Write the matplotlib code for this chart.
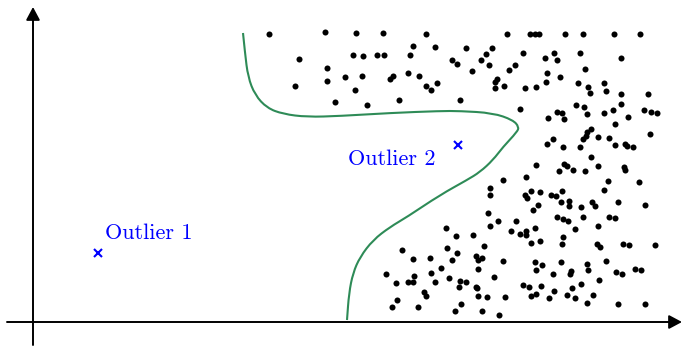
import matplotlib
matplotlib.use("Agg")
import matplotlib.pyplot as plt
from matplotlib.path import Path
from matplotlib.patches import PathPatch

# ---- data (origin at the axis crossing) ----
dots_x = [236, 292, 323, 350, 393, 380, 402, 266, 320, 330, 344, 351, 377, 419, 424, 294, 294, 312, 329, 357,
          360, 375, 386, 404, 393, 398, 262, 322, 302, 334, 366, 427,
          474, 497, 502, 506, 532, 550, 581, 607, 433, 459, 453, 448, 456, 439, 490, 521, 512, 524, 547, 588,
          482, 476, 514, 527, 552, 464, 462, 471, 462, 492, 503, 513, 545, 555, 557, 571, 573, 588, 615,
          487, 515, 524, 529, 531, 543, 551, 554, 571, 580, 588, 595, 611, 618, 624,
          582, 617, 558, 554, 553, 550, 565, 576, 520, 514, 530, 547, 582, 592, 594, 600, 558, 503, 531, 534,
          526, 540, 552, 565, 591, 592, 493, 470, 575, 606, 457, 457, 492, 494, 498, 507, 518, 523, 529, 571,
          505, 528, 536, 536, 548, 559, 562, 585, 612, 500,
          455, 465, 457, 483, 478, 487, 493, 493, 502, 498, 507, 524, 530, 535, 550, 565, 576, 582, 542, 530,
          529, 564, 567, 590, 596, 622, 413, 423, 440, 451, 369, 380, 397, 414, 424, 419, 443, 445, 449, 470,
          502, 509, 528, 554, 573, 408, 398, 381, 353, 363, 375, 380, 402, 416, 427, 433, 426, 445, 461, 443,
          444, 503, 520, 538, 537, 555, 583, 589, 602, 608, 566, 490, 496, 508, 548, 539, 521, 516, 498, 503,
          534, 542, 560, 554, 585, 612, 391, 393, 364, 359, 385, 428, 422, 445, 454, 472, 449, 466]
dots_y = [288, 290, 289, 289, 288, 276, 275, 263, 267, 266, 267, 267, 267, 262, 258, 254, 241, 245, 246, 243,
          246, 249, 246, 239, 236, 232, 236, 232, 220, 217, 222, 222,
          288, 288, 288, 288, 288, 288, 288, 288, 274, 274, 268, 262, 257, 251, 269, 269, 264, 262, 269, 264,
          257, 252, 249, 245, 253, 243, 240, 236, 234, 234, 235, 240, 239, 235, 229, 239, 231, 228, 228,
          213, 204, 210, 209, 203, 217, 215, 208, 209, 212, 218, 205, 212, 210, 209,
          198, 188, 193, 190, 186, 183, 185, 184, 183, 178, 175, 175, 177, 178, 176, 175, 165, 157, 158, 156,
          151, 152, 151, 156, 155, 152, 145, 142, 141, 140, 134, 127, 127, 124, 131, 130, 127, 126, 131, 132,
          117, 120, 121, 116, 115, 120, 116, 120, 117, 112,
          109, 101, 96, 101, 91, 88, 91, 87, 94, 79, 81, 105, 103, 101, 105, 96, 105, 104, 93, 85,
          78, 78, 75, 78, 77, 77, 94, 86, 87, 76, 72, 63, 64, 74, 69, 62, 66, 62, 64, 61,
          60, 57, 60, 58, 61, 54, 49, 46, 48, 39, 40, 40, 40, 44, 41, 40, 35, 53, 45, 35,
          34, 52, 48, 51, 48, 52, 50, 48, 53, 52, 42, 37, 35, 36, 38, 34, 31, 24, 26, 28,
          27, 24, 27, 19, 18, 18, 30, 26, 22, 15, 15, 18, 11, 26, 25, 25, 11, 7]

outlier_x = [65, 425]
outlier_y = [69, 177]
outlier_labels = ["Outlier 1", "Outlier 2"]
label_x = [72, 315]
label_y = [83, 157]

curve_x = [210, 212, 215, 222, 234, 250, 274, 307, 357, 407, 427, 460, 480, 486, 484, 470, 460, 447,
           434, 407, 374, 357, 340, 327, 320, 316, 314]
curve_y = [289, 269, 245, 227, 214, 208, 205, 206, 209, 211, 211, 209, 202, 195, 190, 175, 162, 150,
           142, 127, 105, 95, 82, 65, 49, 29, 2]

# ---- figure ----
fig = plt.figure(figsize=(6.82, 3.46), dpi=100)
ax = fig.add_axes([0, 0, 1, 1])
ax.set_xlim(-33, 649)
ax.set_ylim(-24, 322)
ax.axis("off")

arrow_kw = dict(arrowstyle="-|>,head_length=0.6,head_width=0.32", lw=1.4, color="black",
                shrinkA=0, shrinkB=0, mutation_scale=13)
ax.annotate("", xy=(649, 0), xytext=(-26, 0), arrowprops=arrow_kw)
ax.annotate("", xy=(0, 315), xytext=(0, -23), arrowprops=arrow_kw)

# smooth curve via quadratic Bezier through midpoints
pts = list(zip(curve_x, curve_y))
verts = [pts[0]]
codes = [Path.MOVETO]
for i in range(1, len(pts) - 1):
    mx = (pts[i][0] + pts[i + 1][0]) / 2
    my = (pts[i][1] + pts[i + 1][1]) / 2
    verts += [pts[i], (mx, my)]
    codes += [Path.CURVE3, Path.CURVE3]
verts.append(pts[-1])
codes.append(Path.LINETO)
ax.add_patch(PathPatch(Path(verts, codes), fill=False, edgecolor="#2e8b57", lw=1.5))

ax.scatter(dots_x, dots_y, s=19, color="black", linewidths=0, zorder=3)

ax.plot(outlier_x, outlier_y, linestyle="none", marker="x", color="blue",
        markersize=6, markeredgewidth=1.5, zorder=4)
for lx, ly, t in zip(label_x, label_y, outlier_labels):
    ax.text(lx, ly, t, color="blue", fontsize=16, family="cmr10",
            ha="left", va="baseline")

fig.savefig("out.png", dpi=100)
